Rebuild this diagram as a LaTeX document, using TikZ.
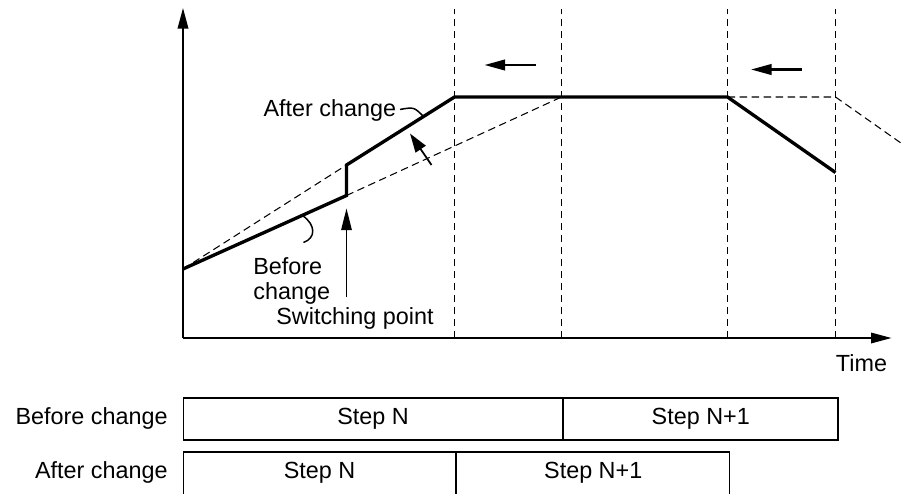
\documentclass[tikz,border=0pt]{standalone}
\usepackage{fontspec}
\setmainfont{Liberation Sans}
\usetikzlibrary{arrows.meta,positioning}

\begin{document}
\begin{tikzpicture}[font=\fontsize{13.3}{14.2}\selectfont,>={Triangle[length=0.41cm,width=0.21cm]},
  guide/.style={line width=0.6pt,dash pattern=on 0.15cm off 0.09cm},
  profile/.style={line width=1.9pt},
  cell/.style={draw,line width=0.85pt,minimum height=0.84cm,inner sep=0pt,anchor=north west},
  lbl/.style={inner sep=0pt}]
  \useasboundingbox (-3.66,-3.10) rectangle (14.36,6.76);
  \coordinate (O) at (0,0); \coordinate (Ytip) at (0,6.6); \coordinate (Xtip) at (14.17,0);
  \coordinate (P0) at (0,1.38); \coordinate (P1) at (3.27,2.85); \coordinate (P2) at (3.27,3.46);
  \coordinate (P3) at (5.43,4.82); \coordinate (P4) at (10.89,4.82); \coordinate (P5) at (13.05,3.31);
  \coordinate (Q1) at (7.57,4.82); \coordinate (Q2) at (13.05,4.82); \coordinate (Q3) at (14.5,3.80);
  \foreach \x in {5.43,7.57,10.89,13.05} \draw[guide] (\x,0) -- (\x,6.58);
  \draw[line width=1pt,->] (O) -- (Ytip);
  \draw[line width=1pt,->] (O) -- (Xtip);
  \draw[guide] (P0) -- (P2);
  \draw[guide] (P1) -- (Q1);
  \draw[guide] (P4) -- (Q2) -- (Q3);
  \draw[profile] (P0) -- (P1) -- (P2) -- (P3) -- (P4) -- (P5);
  \coordinate (S1a) at (7.06,5.46); \coordinate (S1b) at (6.03,5.46);
  \coordinate (S2a) at (12.37,5.37); \coordinate (S2b) at (11.36,5.37);
  \draw[line width=1.3pt,->] (S1a) -- (S1b);
  \draw[line width=1.3pt,->] (S2a) -- (S2b);
  \coordinate (Ua) at (4.97,3.46); \coordinate (Ub) at (4.54,4.09);
  \draw[line width=1pt,-{Triangle[length=0.38cm,width=0.24cm]}] (Ua) -- (Ub);
  \node[lbl,anchor=base east] (lblAfter) at (4.27,4.43) {After change};
  \coordinate (LA) at (4.81,4.43);
  \draw[line width=0.85pt] (lblAfter.east) ++(0.07,0.02) .. controls (4.62,4.62) .. (LA);
  \node[lbl,anchor=west,align=left] (lblBefore) at (1.40,1.15) {Before\\change};
  \coordinate (LB) at (2.39,2.45);
  \draw[line width=0.85pt] (LB) .. controls (2.66,2.26) and (2.66,2.0) .. (2.41,1.91);
  \node[lbl,anchor=base] (lblSwitch) at (3.44,0.28) {Switching point};
  \coordinate (W) at (3.27,0.83); \coordinate (Wtip) at (3.27,2.59);
  \draw[line width=0.75pt,-{Triangle[length=0.43cm,width=0.21cm]}] (W) -- (Wtip);
  \node[lbl,anchor=base] (lblTime) at (13.57,-0.66) {Time};
  \node[cell,minimum width=7.57cm] (bN) at (0,-1.18) {Step N};
  \node[cell,minimum width=5.48cm,right=0pt of bN] (bN1) {Step N+1};
  \node[cell,minimum width=5.43cm,minimum height=0.86cm] (aN) at (0,-2.26) {Step N};
  \node[cell,minimum width=5.46cm,minimum height=0.86cm,right=0pt of aN] (aN1) {Step N+1};
  \node[lbl,left=0.3cm of bN] (rowBefore) {Before change};
  \node[lbl,anchor=base east] (rowAfter) at (-0.30,-2.81) {After change};
\end{tikzpicture}
\end{document}
